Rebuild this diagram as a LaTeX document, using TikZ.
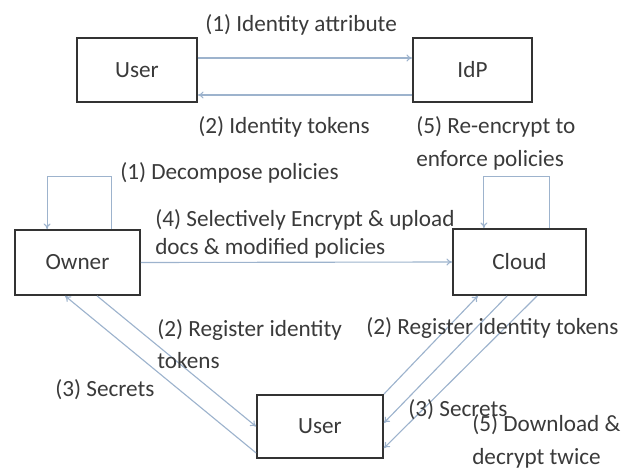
\documentclass[tikz,border=0pt]{standalone}
\usepackage{fontspec}
\setmainfont{Carlito}
\usetikzlibrary{arrows.meta,positioning,calc}

\definecolor{azulflecha}{HTML}{9DB3CD}
\definecolor{grisborde}{HTML}{333333}
\definecolor{gristexto}{HTML}{3A3A3A}

\begin{document}
\begin{tikzpicture}[
            x=0.025cm, y=-0.025cm,
            bloque/.style={draw=grisborde, line width=1.3pt, font=\fontsize{16.5}{20}\selectfont, text=gristexto, align=center, inner sep=3pt},
            etiqueta/.style={font=\fontsize{16.5}{20}\selectfont, text=gristexto, anchor=west, align=left, inner sep=0pt},
            flecha/.style={-{To[length=4pt,width=5pt]}, azulflecha, line width=0.8pt}
        ]
        \useasboundingbox (0,0) rectangle (623,471);

        % Usuario e IdP (arriba)
        \node[bloque, minimum width=3cm, minimum height=1.6cm] (usuario) at (137,70) {User};
        \node[bloque, minimum width=2.975cm, minimum height=1.6cm] (idp) at (472.5,70) {IdP};

        % Propietario y nube (centro)
        \node[bloque, minimum width=3.125cm, minimum height=1.625cm] (owner) at (77.5,262.5) {Owner};
        \node[bloque, minimum width=3.325cm, minimum height=1.65cm] (nube) at (519.5,262) {Cloud};

        % Usuario final (abajo)
        \node[bloque, minimum width=3.15cm, minimum height=1.575cm] (cliente) at (320,426.5) {User};

        % Intercambio con el IdP
        \draw[flecha] ([yshift=0.3cm]usuario.east) -- ([yshift=0.3cm]idp.west);
        \draw[flecha] ([yshift=-0.625cm]idp.west) -- ([yshift=-0.625cm]usuario.east);
        \node[etiqueta] (idattr) at (205,25) {(1) Identity attribute};
        \node[etiqueta] (idtok) at (198,127) {(2) Identity tokens};
        \node[etiqueta] (reenc) at (416,143.5) {(5) Re-encrypt to\\[4pt]enforce policies};

        % Bucles sobre owner y cloud
        \draw[flecha] ([xshift=0.84cm]owner.north) -- ++(0,-53) -| ([xshift=-0.76cm]owner.north);
        \draw[flecha] ([xshift=0.76cm]nube.north) -- ++(0,-52) -| ([xshift=-0.89cm]nube.north);
        \node[etiqueta] (decomp) at (120,173) {(1) Decompose policies};

        % Subida de documentos
        \draw[flecha] (owner.east) -- (nube.west);
        \node[etiqueta] (subida) at (155,234) {(4) Selectively Encrypt \& upload\\docs \& modified policies};

        % Conexiones con el usuario final
        \draw[flecha] ([yshift=0.15cm]cliente.south west) -- ([xshift=-0.31cm]owner.south);
        \draw[flecha] ([xshift=0.49cm]owner.south) -- (cliente.west);
        \draw[flecha] (cliente.north east) -- ([xshift=-1.04cm]nube.south);
        \draw[flecha] ([xshift=-0.31cm]nube.south) -- ([yshift=0.09cm]cliente.east);
        \draw[flecha] ([xshift=0.44cm]nube.south) -- ([yshift=-0.54cm]cliente.east);

        \node[etiqueta] (regizq) at (157,344) {(2) Register identity\\[3pt]tokens};
        \node[etiqueta] (secizq) at (55,390) {(3) Secrets};
        \node[etiqueta] (regder) at (366,328) {(2) Register identity tokens};
        \node[etiqueta] (secder) at (408,410) {(3) Secrets};
        \node[etiqueta] (descarga) at (472,441.5) {(5) Download \&\\[4pt]decrypt twice};

    \end{tikzpicture}
\end{document}
